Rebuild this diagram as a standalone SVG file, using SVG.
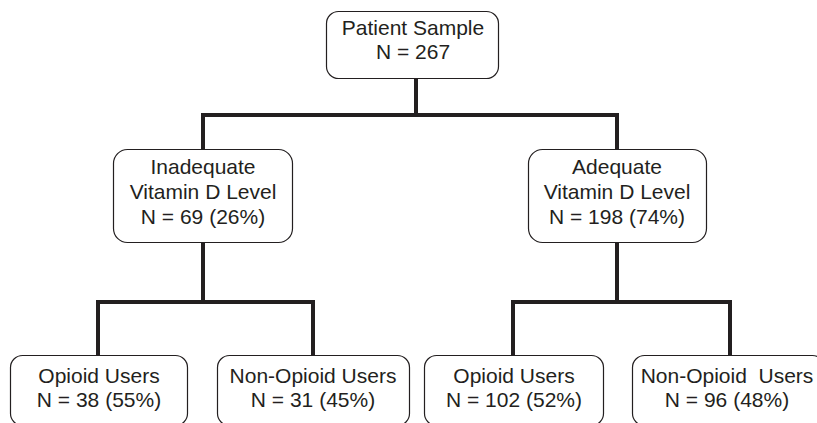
<svg xmlns="http://www.w3.org/2000/svg" width="817" height="423" viewBox="0 0 817 423">
<style>
.box{fill:#fff;stroke:#231f20;stroke-width:1.2}
.t{font-family:"Liberation Sans",Arial,sans-serif;font-size:21px;fill:#231f20;text-anchor:middle}
.c{fill:none;stroke:#231f20;stroke-width:4;stroke-linejoin:miter;stroke-linecap:butt}
</style>
<rect width="817" height="423" fill="#fff"/>
<g id="connectors">
<path class="c" d="M416 78V115M203 151V115H617V151"/>
<path class="c" d="M203 242V302M98 356V302H313V356"/>
<path class="c" d="M617 242V302M513 356V302H730V356"/>
</g>
<g id="root">
<rect class="box" x="326.5" y="11.5" width="172" height="67" rx="12"/>
<text class="t" x="413" y="35">Patient Sample</text>
<text class="t" x="413" y="59">N = 267</text>
</g>
<g id="inadequate">
<rect class="box" x="113.5" y="149.5" width="179" height="93" rx="14"/>
<text class="t" x="203" y="174">Inadequate</text>
<text class="t" x="203" y="199">Vitamin D Level</text>
<text class="t" x="203" y="224">N = 69 (26%)</text>
</g>
<g id="adequate">
<rect class="box" x="528.5" y="149.5" width="178" height="93" rx="14"/>
<text class="t" x="617" y="174">Adequate</text>
<text class="t" x="617" y="199">Vitamin D Level</text>
<text class="t" x="617" y="224">N = 198 (74%)</text>
</g>
<g id="inad-opioid">
<rect class="box" x="10.5" y="355.5" width="177" height="70" rx="12"/>
<text class="t" x="99" y="383">Opioid Users</text>
<text class="t" x="99" y="407">N = 38 (55%)</text>
</g>
<g id="inad-nonopioid">
<rect class="box" x="217.5" y="355.5" width="192" height="70" rx="12"/>
<text class="t" x="313" y="383">Non-Opioid Users</text>
<text class="t" x="313" y="407">N = 31 (45%)</text>
</g>
<g id="adeq-opioid">
<rect class="box" x="424.5" y="355.5" width="179" height="70" rx="12"/>
<text class="t" x="514" y="383">Opioid Users</text>
<text class="t" x="514" y="407">N = 102 (52%)</text>
</g>
<g id="adeq-nonopioid">
<rect class="box" x="632.5" y="355.5" width="192" height="70" rx="12"/>
<text class="t" x="727" y="383" xml:space="preserve">Non-Opioid  Users</text>
<text class="t" x="727" y="407">N = 96 (48%)</text>
</g>
</svg>
